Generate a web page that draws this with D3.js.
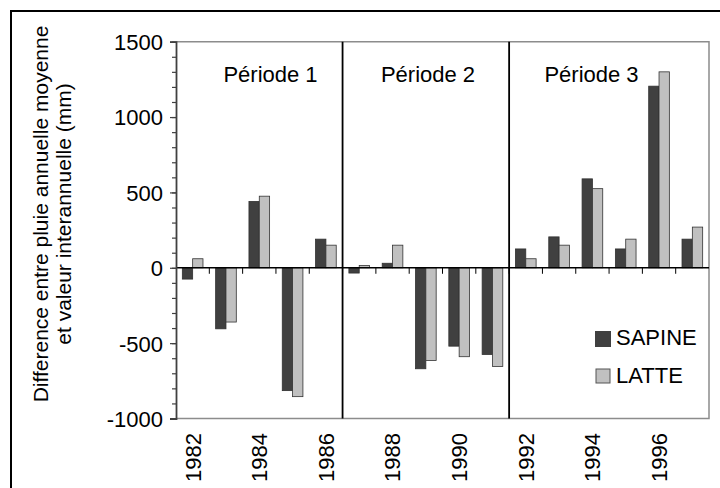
<!DOCTYPE html>
<html>
<head>
<meta charset="utf-8">
<script src="https://cdn.jsdelivr.net/npm/d3@7"></script>
<style>
  html, body { margin: 0; padding: 0; background: #fff; }
  svg { display: block; font-family: "Liberation Sans", Arial, sans-serif; }
</style>
</head>
<body>
<svg id="chart" width="720" height="488"></svg>
<script>
// ---- data ----
const years = [1982, 1983, 1984, 1985, 1986, 1987, 1988, 1989, 1990, 1991, 1992, 1993, 1994, 1995, 1996, 1997];
const sapine = [-75, -405, 440, -815, 190, -35, 30, -670, -520, -575, 125, 205, 590, 125, 1205, 190];
const latte  = [60, -360, 475, -855, 150, 15, 150, -615, -590, -655, 60, 150, 525, 190, 1300, 270];
const seriesNames = ["SAPINE", "LATTE"];
const yTickValues = [-1000, -500, 0, 500, 1000, 1500];
const xTickLabels = [1982, 1984, 1986, 1988, 1990, 1992, 1994, 1996];
const periodLabels = ["Période 1", "Période 2", "Période 3"];
const periodFirstYears = [1982, 1987, 1992];
const yTitleLines = ["Difference entre pluie annuelle moyenne", "et valeur interannuelle (mm)"];

// ---- layout ----
const svg = d3.select("#chart");
const L = 176, R = 709, T = 41.7, B = 418.5;
const colors = { SAPINE: "#404040", LATTE: "#c0c0c0" };
const fontSize = 22;

// outer frame (extends beyond the window on right/bottom)
svg.append("rect").attr("x", 11).attr("y", 11).attr("width", 760).attr("height", 520)
  .attr("fill", "none").attr("stroke", "#000").attr("stroke-width", 2);

const y = d3.scaleLinear().domain([-1000, 1500]).range([B, T]);
const x = d3.scaleBand().domain(years).range([L, R]).paddingInner(0.38).paddingOuter(0.19);
const xs = d3.scaleBand().domain(seriesNames).range([0, x.bandwidth()]);
const step = x.step();
const boundary = i => L + i * step;

// plot border (top, right, bottom)
svg.append("path")
  .attr("d", `M${L},${T}H${R}V${B}H${L}`)
  .attr("fill", "none").attr("stroke", "#8c8c8c").attr("stroke-width", 1.5);

// bars
const rows = years.map((yr, i) => ({ year: yr, SAPINE: sapine[i], LATTE: latte[i] }));
const g = svg.append("g");
seriesNames.forEach(s => {
  g.selectAll(null).data(rows).enter().append("rect")
    .attr("x", d => x(d.year) + xs(s))
    .attr("width", xs.bandwidth())
    .attr("y", d => y(Math.max(0, d[s])))
    .attr("height", d => Math.abs(y(d[s]) - y(0)))
    .attr("fill", colors[s])
    .attr("stroke", s === "LATTE" ? "#333" : "#303030")
    .attr("stroke-width", 0.8);
});

// zero line
svg.append("line").attr("x1", L).attr("x2", R).attr("y1", y(0)).attr("y2", y(0))
  .attr("stroke", "#000").attr("stroke-width", 1.5);

// category boundary ticks on zero line
svg.append("g").selectAll("line").data(d3.range(1, years.length)).enter().append("line")
  .attr("x1", i => boundary(i)).attr("x2", i => boundary(i))
  .attr("y1", y(0)).attr("y2", y(0) + 6)
  .attr("stroke", "#000").attr("stroke-width", 1);

// period separators
periodFirstYears.slice(1).forEach(py => {
  const i = years.indexOf(py);
  svg.append("line").attr("x1", boundary(i)).attr("x2", boundary(i))
    .attr("y1", T).attr("y2", B).attr("stroke", "#000").attr("stroke-width", 1.8);
});

// period labels
const periodLabelX = [270.5, 428, 591.5];
periodLabels.forEach((lab, k) => {
  svg.append("text").attr("x", periodLabelX[k]).attr("y", 82)
    .attr("text-anchor", "middle").attr("font-size", fontSize).attr("fill", "#000").text(lab);
});

// y axis: minor ticks
const minorAxis = d3.axisLeft(y).tickValues(d3.range(-1000, 1501, 100)).tickSize(4).tickFormat("");
svg.append("g").attr("transform", `translate(${L},0)`).call(minorAxis)
  .call(a => a.select(".domain").remove())
  .call(a => a.selectAll("line").attr("stroke", "#404040").attr("stroke-width", 1.2));
// y axis: major
const majorAxis = d3.axisLeft(y).tickValues(yTickValues).tickSize(6).tickPadding(7).tickFormat(d => String(d));
svg.append("g").attr("transform", `translate(${L},0)`).call(majorAxis)
  .call(a => a.select(".domain").attr("stroke", "#404040").attr("stroke-width", 1.8))
  .call(a => a.selectAll("line").attr("stroke", "#404040").attr("stroke-width", 1.2))
  .call(a => a.selectAll("text").attr("font-size", fontSize).attr("fill", "#000")
    .attr("font-family", "Liberation Sans, Arial, sans-serif").attr("dy", "0.36em"));

// x labels (rotated)
svg.append("g").selectAll("text").data(xTickLabels).enter().append("text")
  .attr("transform", d => `translate(${x(d) + x.bandwidth() / 2},433) rotate(-90)`)
  .attr("text-anchor", "end").attr("dy", "0.36em")
  .attr("font-size", fontSize).attr("fill", "#000").text(d => d);

// y title
const yTitleX = [48, 71];
yTitleLines.forEach((line, k) => {
  svg.append("text").attr("transform", `translate(${yTitleX[k]},214) rotate(-90)`)
    .attr("text-anchor", "middle").attr("font-size", 21).attr("fill", "#000").text(line);
});

// legend
const legendY = [331, 369];
seriesNames.forEach((s, k) => {
  const sz = s === "LATTE" ? 14 : 16;
  svg.append("rect").attr("x", s === "LATTE" ? 596 : 595).attr("y", legendY[k]).attr("width", sz).attr("height", sz)
    .attr("fill", colors[s]).attr("stroke", s === "LATTE" ? "#555" : "none").attr("stroke-width", 1);
  svg.append("text").attr("x", 616).attr("y", legendY[k] + 13.5)
    .attr("font-size", fontSize).attr("fill", "#000").text(s);
});
</script>
</body>
</html>
